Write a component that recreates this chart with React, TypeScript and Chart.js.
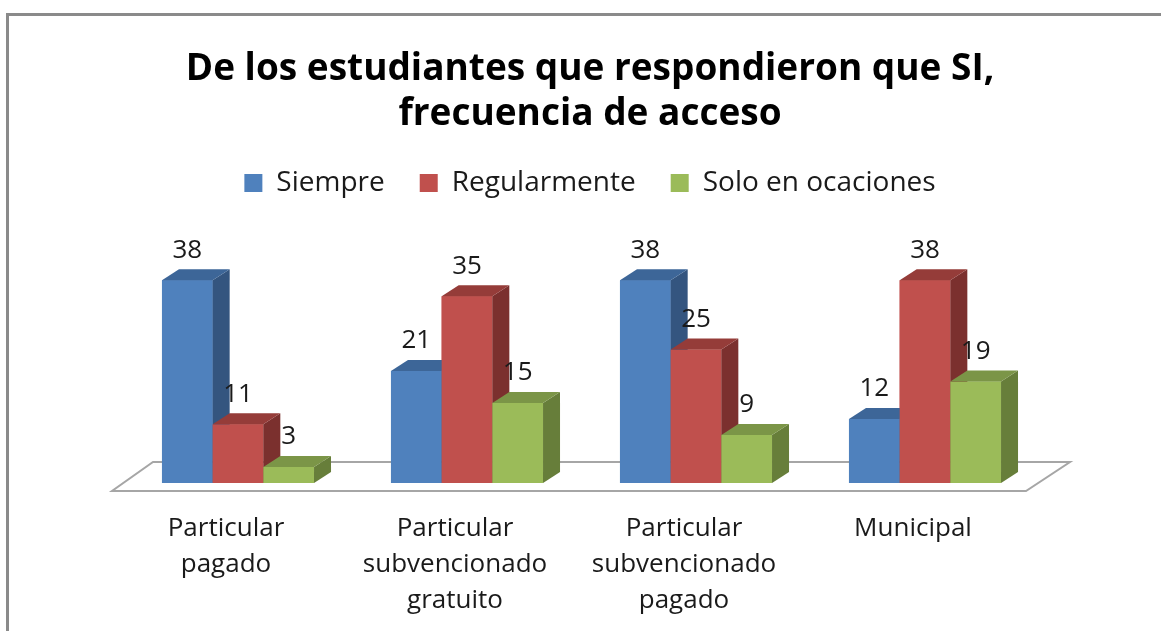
import React, { useEffect, useRef } from "react";
import { Chart, registerables } from "chart.js";

Chart.register(...registerables);

const TITLE_LINES = ["De los estudiantes que respondieron que SI,", "frecuencia de acceso"];
const CATEGORIES: string[][] = [
  ["Particular", "pagado"],
  ["Particular", "subvencionado", "gratuito"],
  ["Particular", "subvencionado", "pagado"],
  ["Municipal"],
];
const SERIES_NAMES = ["Siempre", "Regularmente", "Solo en ocaciones"];
const SIEMPRE = [38, 21, 38, 12];
const REGULARMENTE = [11, 35, 25, 38];
const OCASIONES = [3, 15, 9, 19];

const FRONT = ["#4F81BD", "#C0504D", "#9BBB59"];
const TOP = ["#3D6698", "#953C39", "#7B9547"];
const SIDE = ["#34557F", "#7B302E", "#677E3A"];

const FONT = "'Open Sans', 'DejaVu Sans', sans-serif";
const DX = 17;
const DY = -11;

const floorPlugin = {
  id: "floor3d",
  beforeDatasetsDraw(chart: any) {
    const { ctx, chartArea } = chart;
    const { left, right, bottom } = chartArea;
    ctx.save();
    ctx.beginPath();
    ctx.moveTo(left - 11.5, bottom + 8);
    ctx.lineTo(right - 13.5, bottom + 8);
    ctx.lineTo(right + 30.5, bottom - 21);
    ctx.lineTo(left + 29.5, bottom - 21);
    ctx.closePath();
    ctx.fillStyle = "#ffffff";
    ctx.fill();
    ctx.lineWidth = 2;
    ctx.strokeStyle = "#a6a6a6";
    ctx.stroke();
    ctx.restore();
  },
};

const bars3dPlugin = {
  id: "bars3d",
  afterDatasetsDraw(chart: any) {
    const { ctx } = chart;
    const n = chart.data.labels.length;
    const nd = chart.data.datasets.length;
    ctx.save();
    for (let i = 0; i < n; i++) {
      for (let d = 0; d < nd; d++) {
        const meta = chart.getDatasetMeta(d);
        const el: any = meta.data[i];
        if (!el) continue;
        const { x, y, base, width } = el.getProps(["x", "y", "base", "width"], true);
        const l = x - width / 2;
        const r = x + width / 2;
        ctx.fillStyle = FRONT[d];
        ctx.fillRect(l, y, r - l, base - y);
        ctx.beginPath();
        ctx.moveTo(r, y);
        ctx.lineTo(r + DX, y + DY);
        ctx.lineTo(r + DX, base + DY);
        ctx.lineTo(r, base);
        ctx.closePath();
        ctx.fillStyle = SIDE[d];
        ctx.fill();
        ctx.beginPath();
        ctx.moveTo(l, y);
        ctx.lineTo(r, y);
        ctx.lineTo(r + DX, y + DY);
        ctx.lineTo(l + DX, y + DY);
        ctx.closePath();
        ctx.fillStyle = TOP[d];
        ctx.fill();
      }
    }
    ctx.fillStyle = "#1a1a1a";
    ctx.font = `26px ${FONT}`;
    ctx.textAlign = "center";
    ctx.textBaseline = "middle";
    for (let d = 0; d < nd; d++) {
      const meta = chart.getDatasetMeta(d);
      meta.data.forEach((el: any, i: number) => {
        const v = chart.data.datasets[d].data[i];
        ctx.fillText(String(v), el.x, el.y - 30);
      });
    }
    ctx.restore();
  },
};

export default function App() {
  const ref = useRef<HTMLCanvasElement | null>(null);
  useEffect(() => {
    document.body.style.margin = "0";
    const canvas = ref.current!;
    const chart = new Chart(canvas, {
      type: "bar",
      data: {
        labels: CATEGORIES,
        datasets: [
          { label: SERIES_NAMES[0], data: SIEMPRE, backgroundColor: FRONT[0] },
          { label: SERIES_NAMES[1], data: REGULARMENTE, backgroundColor: FRONT[1] },
          { label: SERIES_NAMES[2], data: OCASIONES, backgroundColor: FRONT[2] },
        ],
      },
      options: {
        animation: false,
        responsive: false,
        devicePixelRatio: 1,
        layout: { padding: { top: 0, left: 123.5, right: 104.5, bottom: 0 } },
        datasets: { bar: { categoryPercentage: 0.664, barPercentage: 1 } },
        plugins: {
          tooltip: { enabled: false },
          title: {
            display: true,
            text: TITLE_LINES,
            color: "#000000",
            font: { family: FONT, size: 37, weight: "bold", lineHeight: 45 / 37 },
            padding: { top: 47, bottom: -3 },
          },
          legend: {
            display: true,
            position: "top",
            labels: {
              color: "#1a1a1a",
              font: { family: FONT, size: 28 },
              boxWidth: 18,
              boxHeight: 18,
              padding: 35,
            },
          },
        },
        scales: {
          x: {
            grid: { display: false, drawTicks: false },
            border: { display: false },
            ticks: {
              color: "#1a1a1a",
              font: { family: FONT, size: 26, lineHeight: 1.385 },
              padding: 28,
              labelOffset: -12,
              maxRotation: 0,
              autoSkip: false,
            },
            afterFit: (s: any) => {
              s.height = 148;
            },
          },
          y: {
            position: "right",
            min: 0,
            max: 51.7,
            grid: { display: false, drawTicks: false },
            border: { display: false },
            ticks: { display: false },
            afterFit: (s: any) => {
              s.width = 17;
            },
          },
        },
      },
      plugins: [floorPlugin, bars3dPlugin],
    } as any);
    return () => chart.destroy();
  }, []);

  return (
    <div style={{ position: "fixed", left: 0, top: 0, width: 1161, height: 631, background: "#fff", overflow: "hidden" }}>
      <canvas ref={ref} width={1161} height={631} style={{ display: "block", width: 1161, height: 631 }} />
      <div
        style={{
          position: "absolute",
          left: 6,
          top: 13,
          width: 1400,
          height: 800,
          borderTop: "3px solid #8a8a8a",
          borderLeft: "3px solid #8a8a8a",
          pointerEvents: "none",
        }}
      />
    </div>
  );
}
